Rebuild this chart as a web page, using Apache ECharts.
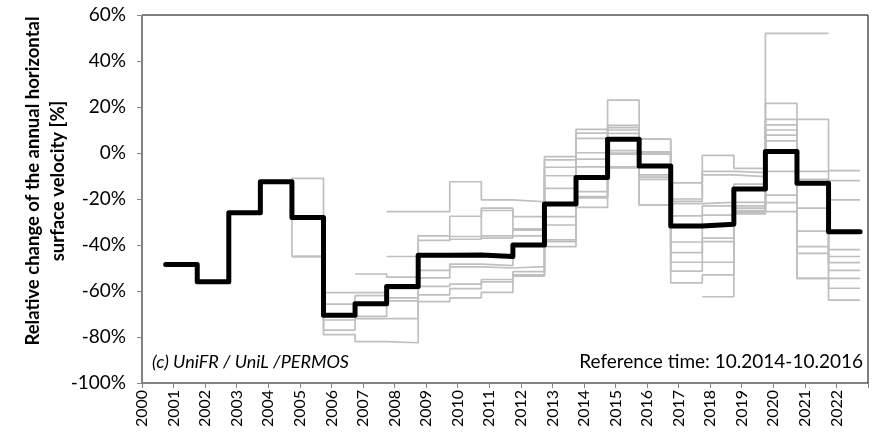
<!DOCTYPE html>
<html>
<head>
<meta charset="utf-8">
<title>Rock glacier velocity change</title>
<script src="https://cdn.jsdelivr.net/npm/echarts@6/dist/echarts.min.js"></script>
<style>
  html, body { margin: 0; padding: 0; background: #fff; }
  #chart { width: 880px; height: 439px; }
</style>
</head>
<body>
<div id="chart"></div>
<script>
// Mean relative change of annual horizontal surface velocity (%), per hydrological year
const meanYears = [2001, 2002, 2003, 2004, 2005, 2006, 2007, 2008, 2009, 2010, 2011,
                   2012, 2013, 2014, 2015, 2016, 2017, 2018, 2019, 2020, 2021, 2022];
const meanChange = [-48.5, -56, -26, -12.5, -28, -70.5, -65.5, -58, -44.5, -44.3, -45,
                    -40, -22.2, -10.6, 6, -5.6, -31.7, -31, -15.7, 0.6, -13.2, -34.2];

// Individual rock glaciers, hydrological years 2004 .. 2022 (null = no measurement)
const glacierFirstYear = 2004;
const rgA = [-12.5, -11, -60.7, -60.7, -59, -51, -48.3, -49, -40, -27.7, -6, 1, -9.5, -38.7, -27, -23, 7.8, -24, -45];
const rgB = [-12.5, -45, -65.7, -62, -63, -54.3, -49.5, -50, -49.4, -31.3, -16.8, 0, -10.5, -43.3, -37, -24, 5.3, -34, -47.7];
const rgC = [null, -45, -72.6, -71, -64.3, -58, -57, -55, -51.6, -37.8, -19, -0.5, -11.5, -47.5, -38.5, -25, -8, -40.7, -51];
const rgD = [null, -45, -77, -72, -72, -61.7, -59, -56, -53, -38.5, -19.5, -6, -22.6, -51.4, -47.5, -25.5, -18.3, -43.6, -54.5];
const rgE = [null, -45, -79, -82, -82.5, -64.6, -63, -60.6, -53.5, -40.7, -23.6, -6.5, -22.6, -56.5, -53, -26, -21.6, -54.5, -58.8];
const rgF = [null, null, null, -52.6, -54, -38, -36.3, -25, -33, -6.2, 6.4, 11, 0.5, -21, -9.5, -10.3, 14.6, -8, -12];
const rgG = [null, null, null, null, -25.5, -25.5, -12.5, -20.4, -21.2, -1.6, 10.3, 23, 6, -13, -1, -6.7, 52, 52, null];
const rgH = [null, null, null, null, -45, -36, -27.5, -24, -27.7, -3, 8.6, 12, 6, -20, -8, -8.5, 21.6, 14.6, -7.7];
const rgI = [null, null, null, null, null, null, -37.5, -36, -33.5, -9.9, 0.1, 10, 0, -22, -21.5, -13.5, 12.2, -11.5, -20.4];
const rgJ = [null, null, null, null, null, null, null, -37, -36, -15.4, -2.7, 8.5, -0.5, -27.3, -23, -21.5, 10, -12.5, -42];
const rgK = [null, null, null, null, null, null, null, null, null, null, null, null, null, null, -62.5, -26.5, -25.5, -54.5, -64];
const glaciers = [rgA, rgB, rgC, rgD, rgE, rgF, rgG, rgH, rgI, rgJ, rgK];

// Axis ticks
const yTicks = { min: -100, max: 60, step: 20 };
const xTicks = { min: 2000, max: 2023, step: 1 };

// A hydrological year Y runs from October of Y-1 to October of Y
const yearStart = y => y - 0.25;
const yearEnd = y => y + 0.75;

// Turn yearly values into step-line runs; each contiguous run is its own polyline
function stepRuns(years, values) {
  const runs = [];
  let cur = null;
  values.forEach((v, i) => {
    if (v === null || v === undefined) {
      if (cur) { runs.push(cur); cur = null; }
      return;
    }
    if (!cur) cur = { pts: [], lastYear: null, lastVal: null };
    cur.pts.push([yearStart(years[i]), v]);
    cur.lastYear = years[i];
    cur.lastVal = v;
  });
  if (cur) runs.push(cur);
  return runs.map(r => r.pts.concat([[yearEnd(r.lastYear), r.lastVal]]));
}

const glacierYears = rgA.map((_, i) => glacierFirstYear + i);
const series = [];
glaciers.forEach(g => {
  stepRuns(glacierYears, g).forEach(run => {
    series.push({
      type: 'line', step: 'end', data: run, symbol: 'none', silent: true,
      z: 2,
      lineStyle: { color: '#bfbfbf', width: 1.7 }
    });
  });
});
stepRuns(meanYears, meanChange).forEach(run => {
  series.push({
    type: 'line', step: 'end', data: run, symbol: 'none', silent: true,
    z: 5,
    lineStyle: { color: '#000', width: 5, cap: 'round', join: 'round' }
  });
});

const FONT = 'Lato, "Noto Sans", sans-serif';
const chart = echarts.init(document.getElementById('chart'), null, { renderer: 'canvas' });
chart.setOption({
  animation: false,
  backgroundColor: '#fff',
  grid: { left: 142, right: 12, top: 15, bottom: 56, show: true, borderColor: '#000', borderWidth: 1 },
  xAxis: {
    type: 'value', min: xTicks.min, max: xTicks.max, interval: xTicks.step,
    axisLine: { show: true, onZero: false, lineStyle: { color: '#868686', width: 1 } },
    axisTick: { show: true, inside: false, length: 5, lineStyle: { color: '#868686' } },
    splitLine: { show: false },
    axisLabel: {
      rotate: 90, margin: 7, color: '#000', fontFamily: FONT, fontSize: 16,
      formatter: v => (v >= xTicks.max ? '' : String(v))
    }
  },
  yAxis: {
    type: 'value', min: yTicks.min, max: yTicks.max, interval: yTicks.step,
    axisLine: { show: true, onZero: false, lineStyle: { color: '#868686', width: 1 } },
    axisTick: { show: true, inside: false, length: 5, lineStyle: { color: '#868686' } },
    splitLine: { show: false },
    axisLabel: { margin: 16, color: '#000', fontFamily: FONT, fontSize: 19, formatter: v => v + '%' }
  },
  graphic: [
    {
      type: 'text', x: 33, y: 181, rotation: Math.PI / 2,
      style: { text: 'Relative change of the annual horizontal', fill: '#000',
               font: 'bold 18.5px ' + FONT, align: 'center', verticalAlign: 'middle' }
    },
    {
      type: 'text', x: 58, y: 181, rotation: Math.PI / 2,
      style: { text: 'surface velocity [%]', fill: '#000',
               font: 'bold 18.5px ' + FONT, align: 'center', verticalAlign: 'middle' }
    },
    {
      type: 'text', x: 152, y: 362,
      style: { text: '(c) UniFR / UniL /PERMOS', fill: '#000',
               font: 'italic 18px ' + FONT, align: 'left', verticalAlign: 'middle' }
    },
    {
      type: 'text', x: 863, y: 362,
      style: { text: 'Reference time: 10.2014-10.2016', fill: '#000',
               font: '19px ' + FONT, align: 'right', verticalAlign: 'middle' }
    }
  ],
  series: series
});
</script>
</body>
</html>
